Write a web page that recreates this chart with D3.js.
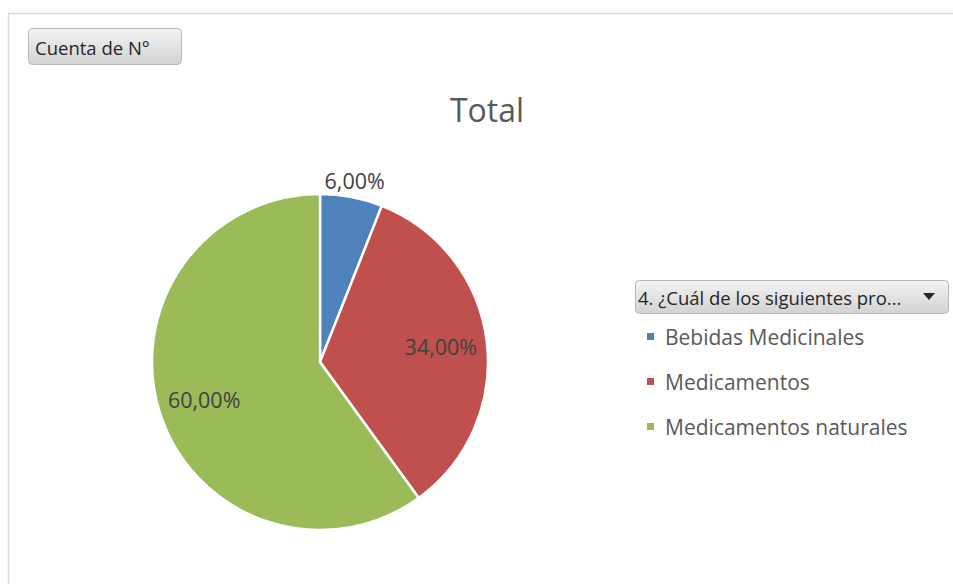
<!DOCTYPE html>
<html>
<head>
<meta charset="utf-8">
<script src="https://cdn.jsdelivr.net/npm/d3@7"></script>
<style>
  body { margin: 0; background: #fff; }
</style>
</head>
<body>
<div id="chart"></div>
<script>
const categories = ["Bebidas Medicinales", "Medicamentos", "Medicamentos naturales"];
const values = [6, 34, 60];
const labels = ["6,00%", "34,00%", "60,00%"];
const colors = ["#4F81BD", "#C0504D", "#9BBB59"];

const width = 953, height = 584;
const font = "'Open Sans', 'Noto Sans', sans-serif";
const cx = 320, cy = 362, radius = 168;

const svg = d3.select("#chart").append("svg")
    .attr("width", width)
    .attr("height", height);

const defs = svg.append("defs");
const grad = defs.append("linearGradient")
    .attr("id", "btn")
    .attr("x1", 0).attr("y1", 0).attr("x2", 0).attr("y2", 1);
grad.append("stop").attr("offset", "0%").attr("stop-color", "#f4f4f4");
grad.append("stop").attr("offset", "100%").attr("stop-color", "#d2d2d2");

// chart area border
svg.append("path")
    .attr("d", `M8.5,${height} V13.5 H${width}`)
    .style("fill", "none")
    .style("stroke", "#d9d9d9")
    .style("stroke-width", 1.5);

// field button
svg.append("rect")
    .attr("x", 28.5).attr("y", 28.5)
    .attr("width", 153).attr("height", 36)
    .attr("rx", 4)
    .style("fill", "url(#btn)")
    .style("stroke", "#b8b8b8");
svg.append("text")
    .attr("x", 35).attr("y", 55)
    .style("font-family", font)
    .style("font-size", "18.5px")
    .style("fill", "#262626")
    .text("Cuenta de N°");

// title
svg.append("text")
    .attr("x", 487).attr("y", 122)
    .attr("text-anchor", "middle")
    .style("font-family", font)
    .style("font-size", "32px")
    .style("fill", "#595959")
    .text("Total");

const pie = d3.pie().sort(null).value(d => d);
const arc = d3.arc().innerRadius(0).outerRadius(radius);
const arcs = pie(values);

const g = svg.append("g").attr("transform", `translate(${cx},${cy})`);

g.selectAll(".slice")
    .data(arcs)
    .enter().append("path")
    .attr("class", "slice")
    .attr("d", arc)
    .style("fill", (d, i) => colors[i])
    .style("stroke", "#fff")
    .style("stroke-width", 2.5);

// label positions (small slice label goes outside)
const labelArcIn = d3.arc().innerRadius(radius * 0.725).outerRadius(radius * 0.725);
const labelArcOut = d3.arc().innerRadius(radius * 1.1).outerRadius(radius * 1.1);
g.selectAll(".lbl")
    .data(arcs)
    .enter().append("text")
    .attr("class", "lbl")
    .attr("transform", d => {
        const p = (d.endAngle - d.startAngle) < 0.5 ? labelArcOut.centroid(d) : labelArcIn.centroid(d);
        return `translate(${p})`;
    })
    .attr("text-anchor", "middle")
    .attr("dominant-baseline", "central")
    .style("font-family", font)
    .style("font-size", "21.5px")
    .style("fill", "#404040")
    .text((d, i) => labels[i]);

// legend
const lg = svg.append("g").attr("transform", "translate(635,280)");
lg.append("rect")
    .attr("x", 0.5).attr("y", 0.5)
    .attr("width", 313).attr("height", 33)
    .attr("rx", 4)
    .style("fill", "url(#btn)")
    .style("stroke", "#b8b8b8");
lg.append("text")
    .attr("x", 3).attr("y", 25)
    .style("font-family", font)
    .style("font-size", "18.5px")
    .style("fill", "#262626")
    .text("4. ¿Cuál de los siguientes pro...");
lg.append("path")
    .attr("d", "M288,13 L300,13 L294,20 Z")
    .style("fill", "#262626");

const items = lg.selectAll(".item")
    .data(categories)
    .enter().append("g")
    .attr("class", "item")
    .attr("transform", (d, i) => `translate(0, ${57 + i * 45})`);
items.append("rect")
    .attr("x", 12).attr("y", -4)
    .attr("width", 7).attr("height", 7)
    .style("fill", (d, i) => colors[i]);
items.append("text")
    .attr("x", 30).attr("y", 0)
    .attr("dominant-baseline", "central")
    .style("font-family", font)
    .style("font-size", "21px")
    .style("fill", "#595959")
    .text(d => d);
</script>
</body>
</html>
